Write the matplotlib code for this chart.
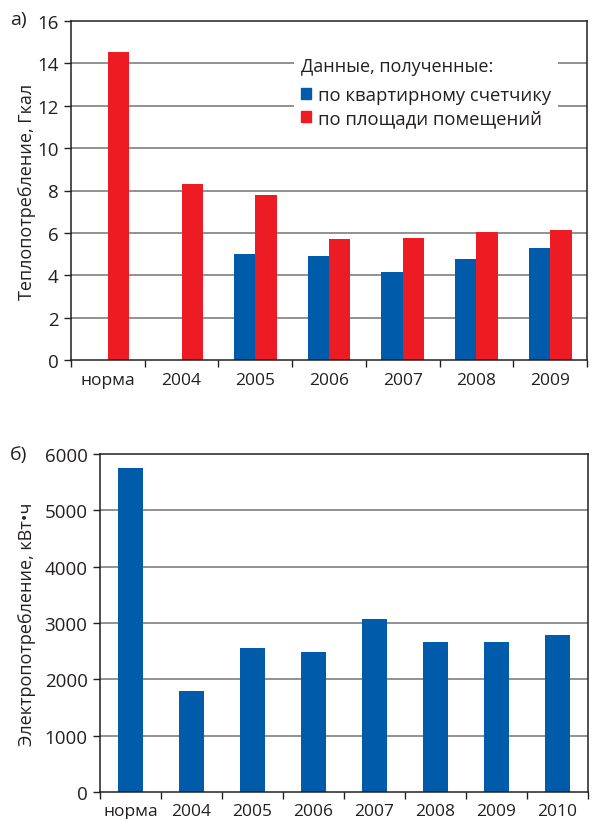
import matplotlib
matplotlib.use("Agg")
import matplotlib.pyplot as plt
import numpy as np
from matplotlib.patches import Patch

plt.rcParams['font.family'] = ['Open Sans', 'DejaVu Sans']

# ---- data ----
heat_categories = ["норма", "2004", "2005", "2006", "2007", "2008", "2009"]
heat_meter = [np.nan, np.nan, 5.0, 4.9, 4.15, 4.75, 5.28]
heat_area = [14.55, 8.3, 7.8, 5.7, 5.75, 6.03, 6.13]
heat_yticks = [0, 2, 4, 6, 8, 10, 12, 14, 16]

elec_categories = ["норма", "2004", "2005", "2006", "2007", "2008", "2009", "2010"]
elec_values = [5750, 1800, 2560, 2490, 3070, 2670, 2670, 2790]
elec_yticks = [0, 1000, 2000, 3000, 4000, 5000, 6000]

legend_title = "Данные, полученные:"
series_labels = ["по квартирному счетчику", "по площади помещений"]

BLUE = "#005BAA"
RED = "#ED1C24"
TXT = "#231F20"
GRID = "#7F7F7F"

W, H = 593, 820
fig = plt.figure(figsize=(W / 100, H / 100), dpi=100)

def px_axes(l, t, r, b):
    return fig.add_axes([l / W, 1 - b / H, (r - l) / W, (b - t) / H])

def style(ax, n, ymax, yticks):
    ax.set_xlim(0, n)
    ax.set_ylim(0, ymax)
    ax.set_yticks(yticks)
    ax.set_xticks(np.arange(n) + 0.5)
    ax.set_xticks(np.arange(n + 1), minor=True)
    ax.tick_params(axis='x', which='major', length=0, pad=9, labelsize=12.5, colors=TXT)
    ax.tick_params(axis='x', which='minor', length=5, width=1, direction='out', color=TXT)
    ax.tick_params(axis='y', length=5, width=1, direction='out', labelsize=13.5, colors=TXT, pad=4)
    for s in ax.spines.values():
        s.set_color(TXT)
        s.set_linewidth(1.1)
    for y in yticks[1:-1]:
        ax.axhline(y, color=GRID, lw=1.2, zorder=0)

# ---- top chart ----
ax1 = px_axes(71, 22, 587, 361)
n1 = len(heat_categories)
x1 = np.arange(n1) + 0.5
bw = 0.29
ax1.bar(x1 - bw / 2, heat_meter, bw, color=BLUE, zorder=2)
ax1.bar(x1 + bw / 2, heat_area, bw, color=RED, zorder=2)
style(ax1, n1, 16, heat_yticks)
ax1.set_xticklabels(heat_categories)
ax1.set_ylabel("Теплопотребление, Гкал", fontsize=13, color=TXT, labelpad=1)
handles = [Patch(color=BLUE), Patch(color=RED)]
leg = ax1.legend(handles, series_labels, title=legend_title,
                 loc='upper left', bbox_to_anchor=(285 / W, 1 - 42 / H),
                 bbox_transform=fig.transFigure, frameon=True, fontsize=13.3,
                 title_fontsize=13, handlelength=0.55, handleheight=0.55,
                 handletextpad=0.4, labelspacing=0.25, borderpad=0.35,
                 alignment='left', fancybox=False)
leg._legend_box.sep += 5
leg.get_frame().set_facecolor('white')
leg.get_frame().set_edgecolor('none')
leg.get_frame().set_alpha(1)
leg.get_title().set_color(TXT)
for t in leg.get_texts():
    t.set_color(TXT)
leg.set_zorder(5)
fig.text(10 / W, 1 - 20 / H, "а)", fontsize=14, color=TXT, va='center', ha='left')

# ---- bottom chart ----
ax2 = px_axes(100, 455, 588, 793)
n2 = len(elec_categories)
x2 = np.arange(n2) + 0.5
ax2.bar(x2, elec_values, 0.41, color=BLUE, zorder=2)
style(ax2, n2, 6000, elec_yticks)
ax2.set_xticklabels(elec_categories)
ax2.tick_params(axis='x', which='major', pad=8)
ax2.set_ylabel("Электропотребление, кВт•ч", fontsize=13, color=TXT, labelpad=6)
fig.text(10 / W, 1 - 455 / H, "б)", fontsize=14, color=TXT, va='center', ha='left')

fig.savefig("out.png", dpi=100)
